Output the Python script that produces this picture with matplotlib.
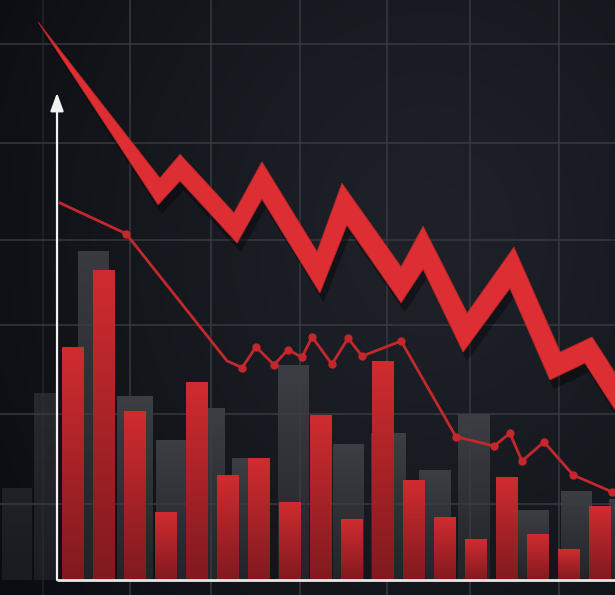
import numpy as np
import matplotlib.pyplot as plt
from matplotlib.patches import Polygon

# red bars (index position, value)
red_x = np.arange(18)
red_vals = [40.0, 53.3, 29.0, 11.6, 34.0, 18.1, 21.0, 13.3, 28.3,
            10.5, 37.6, 17.1, 10.7, 6.9, 17.6, 7.8, 5.3, 12.6]

# grey background bars (centre, width, value)
grey_x = [-1.81, -0.89, 0.68, 2.02, 3.18, 4.47, 5.76, 7.11, 8.89,
          10.18, 11.69, 12.95, 14.85, 16.26, 17.82]
grey_w = [0.94, 0.71, 1.0, 1.16, 0.97, 0.84, 1.2, 0.97, 0.97,
          1.1, 1.03, 1.03, 0.97, 1.0, 1.0]
grey_vals = [15.7, 32.2, 56.6, 31.6, 24.1, 29.5, 21.0, 36.9, 23.4,
             25.2, 18.8, 28.6, 11.9, 15.3, 13.8]
grey_shade = [0.25, 0.45, 0.9, 1, 1, 1, 1, 1, 1, 1, 1, 1, 1, 1, 1]

# thin trend line
line_x = [-0.40, 1.73, 4.98, 5.47, 5.92, 6.50, 6.95, 7.40, 7.73, 8.37,
          8.89, 9.34, 10.60, 12.37, 13.60, 14.11, 14.50, 15.21, 16.15,
          17.40, 18.31]
line_y = [65.0, 59.7, 37.8, 36.6, 40.2, 37.1, 39.7, 38.4, 41.9, 37.2,
          41.7, 38.6, 41.2, 24.7, 23.1, 25.3, 20.5, 23.8, 18.1, 15.2, 13.3]
line_marked = [False, True, False] + [True] * 18

# big zigzag arrow outline
arrow_top_x = [-1.11, 2.82, 3.47, 5.21, 6.11, 7.89, 8.69, 10.60, 11.31,
               12.73, 14.24, 15.73, 16.76, 18.31]
arrow_top_y = [96.2, 69.3, 73.4, 63.3, 72.1, 56.6, 68.4, 54.0, 61.0,
               46.0, 57.4, 39.3, 41.9, 29.0]
arrow_bot_x = [18.31, 16.53, 15.40, 14.11, 12.60, 11.31, 10.60, 8.85,
               7.98, 6.11, 5.31, 3.47, 2.76]
arrow_bot_y = [22.6, 37.4, 34.5, 50.3, 39.3, 53.6, 47.8, 61.2,
               49.5, 65.7, 58.1, 68.8, 64.7]

grid_x = [1.855, 4.468, 7.339, 10.145, 12.82, 15.69]
grid_y = [92.4, 75.3, 58.6, 44.0, 28.6, 13.1]

XL = (-2.339, 17.5)
YL = (-2.586, 100)

fig = plt.figure(figsize=(6.15, 5.95), dpi=100)
ax = fig.add_axes([0, 0, 1, 1])
ax.axis('off')

# background with vignette
gx, gy = np.meshgrid(np.linspace(0, 1, 300), np.linspace(0, 1, 300))
r = np.sqrt(((gx - 0.7) / 0.85) ** 2 + ((gy - 0.4) / 1.0) ** 2)
t = np.clip(r, 0, 1)[..., None] ** 1.3
center = np.array([30, 33, 40]) / 255
edge = np.array([10, 12, 16]) / 255
bg = center * (1 - t) + edge * t
ax.imshow(bg, extent=[XL[0], XL[1], YL[0], YL[1]], aspect='auto',
          origin='upper', zorder=0)


def grad_bar(x, w, h, top, bot, z):
    g = np.linspace(0, 1, 128)[:, None, None]
    img = np.array(top) * (1 - g) + np.array(bot) * g
    ax.imshow(img, extent=[x - w / 2, x + w / 2, 0, h], aspect='auto',
              origin='upper', zorder=z, interpolation='bilinear')


for x, w, v, s in zip(grey_x, grey_w, grey_vals, grey_shade):
    dark = np.array([22, 24, 29]) / 255
    top = np.array([60, 62, 67]) / 255 * s + dark * (1 - s)
    bot = np.array([34, 36, 41]) / 255 * s + dark * (1 - s)
    grad_bar(x, w, v, top, bot, 1)

# faint extra line at the far left
ax.axvline(-0.95, color='#2a2d33', lw=1.2, alpha=0.6, zorder=2)
for gxv in grid_x:
    ax.axvline(gxv, color='#3a3d44', lw=1.4, alpha=0.7, zorder=2)
for gyv in grid_y:
    ax.axhline(gyv, color='#3a3d44', lw=1.4, alpha=0.7, zorder=2)

for x, v in zip(red_x, red_vals):
    grad_bar(x, 0.68, v, np.array([208, 44, 48]) / 255,
             np.array([128, 26, 31]) / 255, 3)

# thin line with markers
ax.plot(line_x, line_y, color='#c4282c', lw=2, zorder=4,
        solid_joinstyle='round')
mx = [x for x, m in zip(line_x, line_marked) if m]
my = [y for y, m in zip(line_y, line_marked) if m]
ax.plot(mx, my, 'o', color='#c4282c', ms=5, zorder=4)

# zigzag arrow with shadow
pts = list(zip(arrow_top_x, arrow_top_y)) + list(zip(arrow_bot_x, arrow_bot_y))
shadow = [(x + 0.12, y - 1.6) for x, y in pts]
ax.add_patch(Polygon(shadow, closed=True, facecolor='black', alpha=0.35,
                     edgecolor='none', zorder=5))
ax.add_patch(Polygon(pts, closed=True, facecolor='#dd2f33',
                     edgecolor='#b8262a', lw=0.6, zorder=6))

# axes lines
ax.plot([-0.5, 17.6], [0, 0], color='#e8e8e8', lw=2, zorder=7,
        solid_capstyle='butt')
ax.annotate('', xy=(-0.5, 84.0), xytext=(-0.5, 0),
            arrowprops=dict(arrowstyle='-|>,head_length=0.55,head_width=0.2',
                            color='#f2f2f2', lw=1.6, mutation_scale=20,
                            shrinkA=0, shrinkB=0),
            zorder=7)

ax.set_xlim(*XL)
ax.set_ylim(*YL)
fig.savefig('out.png', dpi=100, facecolor='#15181e')
